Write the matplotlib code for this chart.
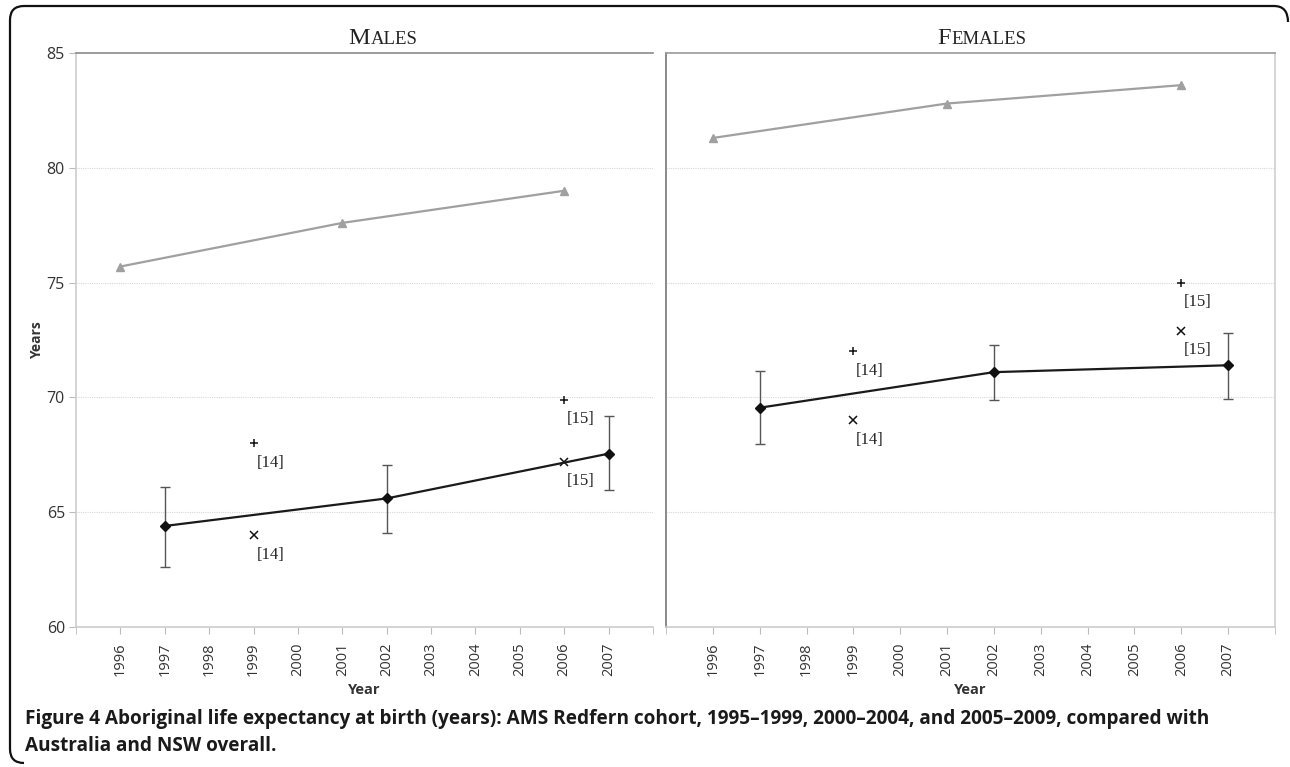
import matplotlib
matplotlib.use("Agg")
import matplotlib.pyplot as plt
from matplotlib.path import Path
from matplotlib.patches import PathPatch
from matplotlib.offsetbox import TextArea, HPacker, AnnotationBbox

# data
aus_years = [1996, 2001, 2006]
aus_males = [75.7, 77.6, 79.0]
aus_females = [81.3, 82.8, 83.6]

ams_years = [1997, 2002, 2007]
ams_males = [64.4, 65.6, 67.55]
ams_males_lo = [62.6, 64.1, 65.95]
ams_males_hi = [66.1, 67.05, 69.2]
ams_females = [69.55, 71.1, 71.4]
ams_females_lo = [67.95, 69.9, 69.95]
ams_females_hi = [71.15, 72.3, 72.8]

# NSW overall, [14] in 1999 and [15] in 2006
nsw_years = [1999, 2006]
nsw_plus_males = [68.0, 69.9]
nsw_x_males = [64.0, 67.2]
nsw_plus_females = [72.0, 75.0]
nsw_x_females = [69.0, 72.9]
nsw_refs = ["[14]", "[15]"]

xticks = list(range(1996, 2008))
yticks = [60, 65, 70, 75, 80, 85]

W, H = 1290, 767
fig = plt.figure(figsize=(W / 100, H / 100), dpi=100)


def px(x0, y0, x1, y1):
    return [x0 / W, 1 - y1 / H, (x1 - x0) / W, (y1 - y0) / H]


axL = fig.add_axes(px(76, 53, 653, 627))
axR = fig.add_axes(px(666, 53, 1275, 627))

tickfont = dict(family="Open Sans", color="#333333")


def panel(ax, aus, mid, lo, hi, plus, cross, show_y):
    ax.set_xlim(1995, 2008)
    ax.set_ylim(60, 85)
    ax.set_xticks(xticks)
    ax.set_xticks([1995, 2008], minor=True)
    ax.set_xticklabels([str(t) for t in xticks], rotation=90, fontsize=10.5, **tickfont)
    ax.set_yticks(yticks)
    if show_y:
        ax.set_yticklabels([str(t) for t in yticks], fontsize=11.5, **tickfont)
        ax.tick_params(axis="y", length=5, color="#bbbbbb", pad=3)
    else:
        ax.tick_params(axis="y", length=0, labelleft=False)
    ax.tick_params(axis="x", which="both", length=5, color="#bbbbbb", pad=6)
    for y in [65, 70, 75, 80]:
        ax.axhline(y, color="#d8d8d8", lw=0.8, ls=(0, (1, 1)), zorder=0)

    ax.plot(aus_years, aus, color="#a0a0a0", lw=1.6, marker="^", ms=5.5,
            mfc="#a0a0a0", mec="#a0a0a0", zorder=3)
    err = [[m - l for m, l in zip(mid, lo)], [h - m for m, h in zip(mid, hi)]]
    ax.errorbar(ams_years, mid, yerr=err, fmt="none", ecolor="#555555",
                elinewidth=1.0, capsize=3.5, capthick=1.0, zorder=3)
    ax.plot(ams_years, mid, color="#1a1a1a", lw=1.6, marker="D", ms=5,
            mfc="#111111", mec="#111111", zorder=4)
    ax.plot(nsw_years, plus, ls="none", marker="+", ms=6, mew=1.1, color="#111111")
    ax.plot(nsw_years, cross, ls="none", marker="x", ms=5.5, mew=1.1, color="#111111")
    for yr, p, c, ref in zip(nsw_years, plus, cross, nsw_refs):
        for v in (p, c):
            ax.annotate(ref, (yr, v), xytext=(2, -14), textcoords="offset points",
                        ha="left", va="center", fontsize=12,
                        family="Liberation Serif", color="#222222")
    ax.set_xlabel("Year", fontsize=10.5, fontweight="bold", family="Open Sans",
                  color="#333333", labelpad=5)


panel(axL, aus_males, ams_males, ams_males_lo, ams_males_hi,
      nsw_plus_males, nsw_x_males, True)
panel(axR, aus_females, ams_females, ams_females_lo, ams_females_hi,
      nsw_plus_females, nsw_x_females, False)

axL.set_ylabel("Years", fontsize=10, fontweight="bold", family="Open Sans",
               color="#333333", labelpad=2)

# spines
axL.spines["right"].set_visible(False)
axL.spines["left"].set_color("#cccccc")
axL.spines["bottom"].set_color("#cccccc")
axL.spines["top"].set_color("#8a8a8a")
axR.spines["left"].set_color("#777777")
axR.spines["top"].set_color("#9a9a9a")
axR.spines["right"].set_color("#d0d0d0")
axR.spines["bottom"].set_color("#cccccc")
for ax in (axL, axR):
    for s in ax.spines.values():
        s.set_linewidth(1.2)

# small-caps panel titles
for word, xc in [("MALES", 383), ("FEMALES", 982)]:
    a = TextArea(word[0], textprops=dict(size=17.5, family="Liberation Serif", color="#222222"))
    b = TextArea(word[1:], textprops=dict(size=13.5, family="Liberation Serif", color="#222222"))
    box = HPacker(children=[a, b], align="baseline", pad=0, sep=1)
    ab = AnnotationBbox(box, (xc / W, 1 - 39 / H), xycoords="figure fraction",
                        box_alignment=(0.5, 0.5), frameon=False)
    fig.add_artist(ab)

# caption
fig.text(25 / W, 1 - 719 / H,
         "Figure 4 Aboriginal life expectancy at birth (years): AMS Redfern cohort, "
         "1995\u20131999, 2000\u20132004, and 2005\u20132009, compared with",
         fontsize=13.7, fontweight="bold", family="Open Sans", va="center", color="#1a1a1a")
fig.text(25 / W, 1 - 746 / H, "Australia and NSW overall.",
         fontsize=13.7, fontweight="bold", family="Open Sans", va="center", color="#1a1a1a")

# rounded frame, open on the right and bottom
r = 14
pts = [(1288, 22), (1288, 6), (1288 - r, 6), (10 + r, 6), (10, 6), (10, 6 + r),
       (10, 763 - r), (10, 763), (10 + r, 763)]
codes = [Path.MOVETO, Path.CURVE3, Path.CURVE3, Path.LINETO, Path.CURVE3, Path.CURVE3,
         Path.LINETO, Path.CURVE3, Path.CURVE3]
verts = [(x / W, 1 - y / H) for x, y in pts]
fig.add_artist(PathPatch(Path(verts, codes), transform=fig.transFigure,
                         fill=False, lw=1.6, edgecolor="#111111"))

fig.savefig("out.png", dpi=100)
